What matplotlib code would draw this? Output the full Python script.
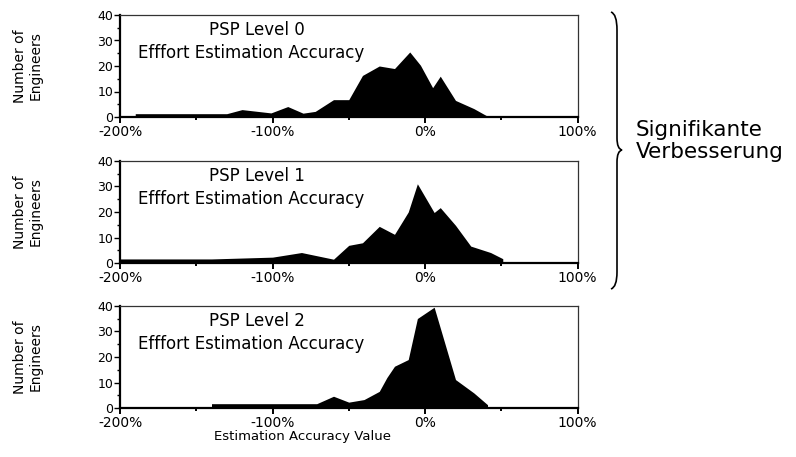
#!/usr/bin/env python3
"""PSP effort estimation accuracy histograms (levels 0-2) with a brace note."""

import matplotlib

matplotlib.use("Agg")
import matplotlib.pyplot as plt
from matplotlib.patches import PathPatch
from matplotlib.path import Path

# estimation accuracy (%) -> number of engineers
level0_x = [-190, -130, -120, -101, -90, -80, -72, -60, -50, -41, -30, -20, -10, -3, 5, 10, 20, 32, 41]
level0_y = [1.3, 1.3, 2.9, 1.6, 4.1, 1.5, 2.2, 6.8, 6.8, 16.3, 20, 19, 25.5, 20.3, 11.5, 16, 6.5, 3.3, 0.3]

level1_x = [-200, -140, -100, -81, -60, -50, -41, -30, -20, -11, -5, 6, 10, 20, 30, 43, 51]
level1_y = [1.7, 1.7, 2.4, 4.2, 1.6, 7, 8, 14.4, 11.3, 20, 31, 19.8, 21.7, 14.8, 6.7, 4.2, 1.8]

level2_x = [-140, -71, -60, -50, -40, -30, -25, -20, -11, -5, 6, 20, 32, 41]
level2_y = [1.8, 1.8, 4.7, 2.4, 3.4, 6.6, 12, 16.4, 19, 35, 39.4, 11.2, 6, 1.4]

panel_titles = ["PSP Level 0", "PSP Level 1", "PSP Level 2"]
subtitle = "Efffort Estimation Accuracy"
x_major = [-200, -100, 0, 100]
x_major_labels = ["-200%", "-100%", "0%", "100%"]
x_minor = [-150, -50, 50]
y_major = [0, 10, 20, 30, 40]
y_minor = [5, 15, 25, 35]

W, H = 796, 457


def px(x, y):
    return x / W, 1 - y / H


def main() -> None:
    plt.rcParams.update({"font.family": "DejaVu Sans"})
    fig = plt.figure(figsize=(W / 100, H / 100), dpi=100)

    # (top, bottom) of each panel in pixels
    boxes = [(15, 117), (160.7, 263.3), (305.7, 408.3)]
    series = [(level0_x, level0_y), (level1_x, level1_y), (level2_x, level2_y)]
    left, right = 120, 577.5

    for (top, bottom), (xs, ys), title in zip(boxes, series, panel_titles):
        x0, y0 = px(left, bottom)
        ax = fig.add_axes([x0, y0, (right - left) / W, (bottom - top) / H])
        ax.fill_between(xs, ys, 0, color="black", lw=0)
        ax.set_xlim(-200, 100)
        ax.set_ylim(0, 40)

        for side in ["top", "right"]:
            ax.spines[side].set_linewidth(0.9)
            ax.spines[side].set_color("#333333")
        for side in ["left", "bottom"]:
            ax.spines[side].set_linewidth(1.6)
            ax.spines[side].set_color("black")

        ax.set_xticks(x_major)
        ax.set_xticklabels(x_major_labels)
        ax.set_xticks(x_minor, minor=True)
        ax.set_yticks(y_major)
        ax.set_yticks(y_minor, minor=True)
        ax.tick_params(axis="x", which="major", direction="out", length=4, width=1.4, pad=1.5, labelsize=10)
        ax.tick_params(axis="x", which="minor", direction="out", length=2.5, width=1.4)
        ax.tick_params(axis="y", which="major", direction="out", length=4, width=1.0, pad=1, labelsize=9)
        ax.tick_params(axis="y", which="minor", direction="out", length=2, width=1.0)

        ax.text(0.30, 0.805, title, transform=ax.transAxes, ha="center", va="baseline", fontsize=12)
        ax.text(0.286, 0.575, subtitle, transform=ax.transAxes, ha="center", va="baseline", fontsize=12)

        fx, fy = px(28, (top + bottom) / 2)
        fig.text(fx, fy, "Number of\nEngineers", rotation=90, ha="center", va="center",
                 multialignment="center", fontsize=10, linespacing=1.15)

    fx, fy = px(303, 440)
    fig.text(fx, fy, "Estimation Accuracy Value", ha="center", va="baseline", fontsize=9.5)

    # curly brace grouping the first two panels
    pts = [(611, 12), (617, 14), (617, 30), (617, 138), (617, 149), (622, 150),
           (617, 151), (617, 162), (617, 272), (617, 287), (611, 289)]
    codes = [Path.MOVETO, Path.CURVE3, Path.CURVE3, Path.LINETO, Path.CURVE3, Path.CURVE3,
             Path.CURVE3, Path.CURVE3, Path.LINETO, Path.CURVE3, Path.CURVE3]
    brace = Path([px(x, y) for x, y in pts], codes)
    fig.patches.append(PathPatch(brace, transform=fig.transFigure, fill=False, lw=1.2, color="black"))

    fx, fy = px(636, 136)
    fig.text(fx, fy, "Signifikante", ha="left", va="baseline", fontsize=15.5)
    fx, fy = px(636, 158.3)
    fig.text(fx, fy, "Verbesserung", ha="left", va="baseline", fontsize=15.5)

    fig.savefig("out.png", dpi=100)
    plt.close(fig)


if __name__ == "__main__":
    main()
